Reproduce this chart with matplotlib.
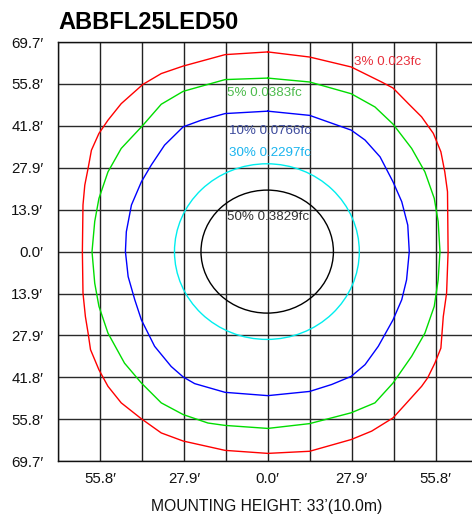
import matplotlib
matplotlib.use("Agg")
import matplotlib.pyplot as plt
from matplotlib.patches import Ellipse

plt.rcParams['font.family'] = ['Liberation Sans', 'DejaVu Sans']

title = "ABBFL25LED50"
xlabel = "MOUNTING HEIGHT: 33\u2019(10.0m)"

grid_ft = [-69.7, -55.76, -41.82, -27.88, -13.94, 0.0, 13.94, 27.88, 41.82, 55.76, 69.7]
y_tick_labels = ["69.7\u2032", "55.8\u2032", "41.8\u2032", "27.9\u2032", "13.9\u2032", "0.0\u2032",
                 "13.9\u2032", "27.9\u2032", "41.8\u2032", "55.8\u2032", "69.7\u2032"]
x_tick_labels = ["", "55.8\u2032", "", "27.9\u2032", "", "0.0\u2032",
                 "", "27.9\u2032", "", "55.8\u2032", ""]

# 3% 0.023fc contour (feet)
red_x = [0, -14.2, -28.1, -35.4, -41.5, -48.7, -53.1, -56.1, -58.6, -59.7, -60.8, -61.4, -61.6,
         -61.4, -60.6, -59.7, -58.9, -56.1, -53.1, -48.7, -42.0, -35.4, -28.1, -14.2, 0,
         13.9, 27.7, 34.5, 41.6, 45.6, 51.1, 53.1, 55.5, 57.5, 58.3, 59.4, 59.9,
         59.7, 58.8, 57.5, 55.0, 51.1, 46.7, 41.6, 37.8, 27.7, 13.9, 0]
red_y = [66.4, 65.5, 61.7, 59.2, 55.6, 49.2, 43.7, 39.3, 33.7, 27.7, 22.1, 15.5, 0,
         -13.8, -21.6, -27.1, -32.6, -39.3, -44.8, -50.3, -55.6, -60.3, -63.0, -66.1, -67.1,
         -66.4, -62.5, -59.7, -55.3, -50.9, -44.8, -42.0, -37.1, -32.1, -21.6, -13.8, 0,
         19.9, 26.5, 33.2, 39.3, 44.8, 49.2, 54.4, 56.4, 61.4, 64.7, 66.4]

# 5% 0.0383fc contour
green_x = [0, -14.2, -28.1, -35.4, -41.5, -48.7, -53.1, -56.1, -57.5, -58.4,
           -57.5, -56.1, -53.1, -47.6, -42.0, -35.4, -28.1, -19.9, -14.2, 0,
           13.9, 27.7, 35.6, 41.6, 47.8, 52.2, 55.3, 56.6, 57.2,
           56.6, 55.3, 52.2, 47.8, 41.6, 35.6, 27.7, 13.9, 0]
green_y = [57.7, 57.2, 53.3, 49.0, 42.0, 34.3, 26.5, 17.7, 10.0, 0,
           -10.5, -18.2, -27.1, -37.1, -43.7, -50.3, -54.2, -57.0, -57.8, -58.8,
           -57.2, -53.6, -50.3, -43.7, -34.8, -27.1, -18.2, -9.4, 0,
           10.0, 17.7, 26.5, 34.3, 42.4, 48.1, 52.5, 56.4, 57.7]

# 10% 0.0766fc contour
blue_x = [0, -14.2, -22.1, -28.1, -34.3, -38.7, -42.0, -45.3, -47.0, -47.3,
          -46.4, -44.2, -42.0, -37.6, -32.1, -28.1, -24.3, -14.2, 0,
          13.9, 21.2, 27.7, 32.3, 36.7, 41.6, 44.5, 46.1, 47.0,
          46.5, 44.5, 41.6, 37.3, 32.3, 27.7, 13.9, 0]
blue_y = [46.7, 45.9, 43.7, 41.5, 35.4, 28.8, 23.2, 15.5, 6.6, 0,
          -8.3, -16.0, -22.7, -31.5, -38.2, -41.7, -43.9, -46.8, -47.9,
          -46.5, -44.2, -41.5, -37.6, -31.5, -22.7, -16.0, -9.4, 0,
          8.8, 16.6, 23.2, 31.5, 37.1, 40.4, 45.3, 46.7]

# 30% and 50% contours (near-elliptical): centre x, width, height in feet
cyan_ellipse = (-0.3, 61.4, 58.4)
black_ellipse = (-0.2, 44.0, 40.9)

labels = ["3% 0.023fc", "5% 0.0383fc", "10% 0.0766fc", "30% 0.2297fc", "50% 0.3829fc"]
label_colors = ["#e8303c", "#4cbb4c", "#3c4a9c", "#1ab4ee", "#333333"]
label_pos = [(28.5, 63.0), (-13.7, 52.7), (-12.8, 40.0), (-12.8, 32.7), (-13.7, 11.6)]

fig = plt.figure(figsize=(4.72, 5.16), dpi=100)
W, H = 472, 516
ax = fig.add_axes([58 / W, (H - 461.2) / H, 419.6 / W, 419.2 / H])
ax.set_xlim(-69.7, 69.7)
ax.set_ylim(-69.7, 69.7)

for g in grid_ft:
    ax.axvline(g, color="#222222", lw=1.0, zorder=1)
    ax.axhline(g, color="#2a2a2a", lw=1.0, zorder=1)

kw = dict(lw=1.0, zorder=3, solid_joinstyle="round")
ax.plot(red_x, red_y, color="#ff0000", **kw)
ax.plot(green_x, green_y, color="#00dd00", **kw)
ax.plot(blue_x, blue_y, color="#0000ff", **kw)
ax.add_patch(Ellipse((cyan_ellipse[0], 0), cyan_ellipse[1], cyan_ellipse[2],
                     fill=False, ec="#00eeee", lw=1.0, zorder=3))
ax.add_patch(Ellipse((black_ellipse[0], 0), black_ellipse[1], black_ellipse[2],
                     fill=False, ec="#000000", lw=1.0, zorder=3))

for t, c, (px, py) in zip(labels, label_colors, label_pos):
    ax.text(px, py, t, color=c, fontsize=9.6, ha="left", va="center", zorder=4)

ax.set_yticks(grid_ft)
ax.set_yticklabels(y_tick_labels)
ax.set_xticks(grid_ft)
ax.set_xticklabels(x_tick_labels)
ax.tick_params(axis="both", length=0, labelsize=10.8, colors="#111111")
ax.tick_params(axis="y", pad=10.5)
ax.tick_params(axis="x", pad=7.5)
for s in ax.spines.values():
    s.set_color("#111111")
    s.set_linewidth(1.0)

fig.text(58 / W, 1 - 29.3 / H, title, fontsize=17, fontweight="bold", ha="left", va="baseline")
fig.text(267 / W, 1 - 506.5 / H, xlabel, fontsize=11.3, ha="center", va="center", color="#111111")

fig.savefig("out.png", dpi=100)
